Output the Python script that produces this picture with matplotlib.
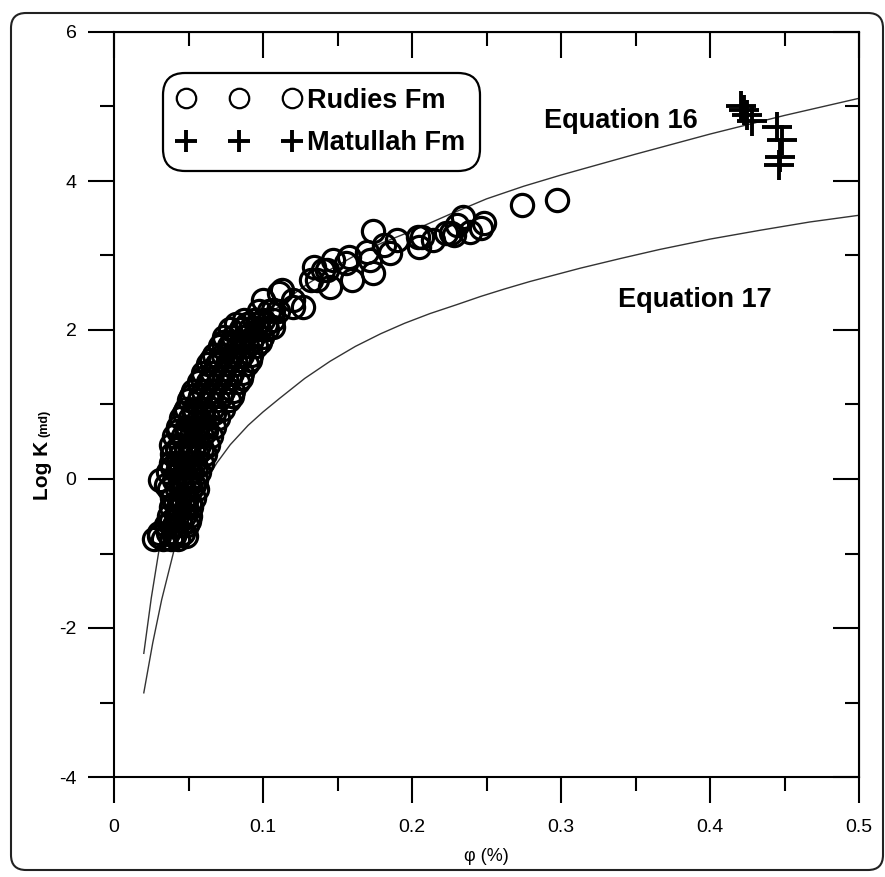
import matplotlib
matplotlib.use("Agg")
import matplotlib.pyplot as plt
from matplotlib.patches import FancyBboxPatch
from matplotlib.ticker import MultipleLocator, FuncFormatter

plt.rcParams["font.family"] = ["Liberation Sans", "DejaVu Sans"]
plt.rcParams["axes.unicode_minus"] = False

# Rudies Fm porosity / log permeability: dense low-porosity band, row by row
band_phi = [
    0.027, 0.033, 0.038, 0.043,
    0.030, 0.036, 0.041, 0.046,
    0.035, 0.040, 0.045, 0.049,
    0.037, 0.042, 0.047, 0.051,
    0.038, 0.043, 0.048, 0.052,
    0.039, 0.044, 0.049, 0.054,
    0.037, 0.042, 0.047, 0.052, 0.056,
    0.031, 0.040, 0.045, 0.050, 0.055,
    0.036, 0.042, 0.047, 0.052, 0.057,
    0.038, 0.043, 0.049, 0.054, 0.059,
    0.039, 0.045, 0.050, 0.056, 0.061,
    0.038, 0.044, 0.050, 0.057, 0.063,
    0.040, 0.046, 0.052, 0.059, 0.065,
    0.043, 0.049, 0.055, 0.061, 0.067,
    0.045, 0.051, 0.057, 0.063, 0.070,
    0.048, 0.054, 0.060, 0.066, 0.073,
    0.050, 0.057, 0.063, 0.070, 0.077,
    0.053, 0.060, 0.066, 0.073, 0.080,
    0.057, 0.063, 0.070, 0.076, 0.083,
    0.060, 0.066, 0.073, 0.079, 0.086,
    0.063, 0.069, 0.076, 0.082, 0.089,
    0.067, 0.073, 0.079, 0.086, 0.092,
    0.071, 0.077, 0.083, 0.089, 0.095,
    0.074, 0.080, 0.087, 0.093, 0.099,
    0.078, 0.085, 0.091, 0.097, 0.103,
    0.087, 0.094, 0.100, 0.107,
    0.097, 0.104, 0.110,
    # in-between rows
    0.030, 0.040, 0.048,
    0.038, 0.044, 0.050,
    0.041, 0.046, 0.051,
    0.035, 0.045, 0.050, 0.054,
    0.039, 0.045, 0.050, 0.055,
    0.042, 0.048, 0.053, 0.059,
    0.043, 0.049, 0.056, 0.062,
    0.047, 0.054, 0.060, 0.067,
    0.052, 0.058, 0.065, 0.072, 0.079,
    0.059, 0.065, 0.071, 0.078, 0.085,
    0.065, 0.071, 0.078, 0.084, 0.091,
    0.073, 0.079, 0.086, 0.092, 0.098,
    0.082, 0.089, 0.096, 0.102,
]
band_logk = [
    -0.80, -0.80, -0.80, -0.80,
    -0.72, -0.72, -0.72, -0.72,
    -0.62, -0.62, -0.62, -0.62,
    -0.50, -0.50, -0.50, -0.50,
    -0.38, -0.38, -0.38, -0.38,
    -0.26, -0.26, -0.26, -0.26,
    -0.14, -0.14, -0.14, -0.14, -0.14,
    -0.02, -0.02, -0.02, -0.02, -0.02,
    0.10, 0.10, 0.10, 0.10, 0.10,
    0.22, 0.22, 0.22, 0.22, 0.22,
    0.34, 0.34, 0.34, 0.34, 0.34,
    0.46, 0.46, 0.46, 0.46, 0.46,
    0.58, 0.58, 0.58, 0.58, 0.58,
    0.70, 0.70, 0.70, 0.70, 0.70,
    0.82, 0.82, 0.82, 0.82, 0.82,
    0.94, 0.94, 0.94, 0.94, 0.94,
    1.06, 1.06, 1.06, 1.06, 1.06,
    1.18, 1.18, 1.18, 1.18, 1.18,
    1.30, 1.30, 1.30, 1.30, 1.30,
    1.42, 1.42, 1.42, 1.42, 1.42,
    1.54, 1.54, 1.54, 1.54, 1.54,
    1.66, 1.66, 1.66, 1.66, 1.66,
    1.78, 1.78, 1.78, 1.78, 1.78,
    1.90, 1.90, 1.90, 1.90, 1.90,
    2.02, 2.02, 2.02, 2.02, 2.02,
    2.14, 2.14, 2.14, 2.14,
    2.26, 2.26, 2.26,
    -0.76, -0.76, -0.76,
    -0.56, -0.56, -0.56,
    -0.32, -0.32, -0.32,
    -0.08, -0.08, -0.08, -0.08,
    0.16, 0.16, 0.16, 0.16,
    0.40, 0.40, 0.40, 0.40,
    0.64, 0.64, 0.64, 0.64,
    0.88, 0.88, 0.88, 0.88,
    1.12, 1.12, 1.12, 1.12, 1.12,
    1.36, 1.36, 1.36, 1.36, 1.36,
    1.60, 1.60, 1.60, 1.60, 1.60,
    1.84, 1.84, 1.84, 1.84, 1.84,
    2.08, 2.08, 2.08, 2.08,
]
# Rudies Fm upper tail
tail_phi = [
    0.100, 0.107, 0.107, 0.111, 0.113, 0.120, 0.120, 0.127, 0.132, 0.134,
    0.136, 0.140, 0.143, 0.145, 0.147, 0.156, 0.158, 0.160, 0.170, 0.172,
    0.174, 0.174, 0.181, 0.185, 0.190, 0.204, 0.205, 0.207, 0.214, 0.223,
    0.226, 0.228, 0.230, 0.234, 0.239, 0.246, 0.248, 0.274, 0.297,
]
tail_logk = [
    2.40, 2.27, 2.04, 2.50, 2.54, 2.40, 2.31, 2.31, 2.67, 2.85,
    2.67, 2.81, 2.81, 2.58, 2.94, 2.90, 2.98, 2.67, 3.05, 2.94,
    2.76, 3.33, 3.14, 3.03, 3.21, 3.25, 3.11, 3.25, 3.21, 3.30,
    3.30, 3.28, 3.41, 3.52, 3.32, 3.37, 3.44, 3.68, 3.74,
]

# Matullah Fm samples
matullah_phi = [0.421, 0.423, 0.425, 0.428, 0.445, 0.448, 0.447, 0.446]
matullah_logk = [5.00, 4.95, 4.88, 4.80, 4.72, 4.55, 4.32, 4.22]

# Model curves
eq16_phi = [0.020, 0.025, 0.030, 0.035, 0.040, 0.050, 0.060, 0.070, 0.085,
            0.100, 0.115, 0.130, 0.145, 0.160, 0.180, 0.200, 0.225, 0.250,
            0.275, 0.300, 0.350, 0.400, 0.450, 0.500]
eq16_logk = [-2.34, -1.60, -0.98, -0.48, -0.05, 0.55, 1.00, 1.35, 1.78,
             2.12, 2.40, 2.62, 2.81, 2.98, 3.17, 3.33, 3.55, 3.76,
             3.93, 4.08, 4.36, 4.63, 4.88, 5.11]
eq17_phi = [0.020, 0.026, 0.032, 0.040, 0.050, 0.060, 0.069, 0.078, 0.090,
            0.100, 0.111, 0.128, 0.145, 0.162, 0.179, 0.195, 0.212, 0.230,
            0.246, 0.262, 0.279, 0.296, 0.313, 0.340, 0.366, 0.400, 0.434,
            0.467, 0.500]
eq17_logk = [-2.87, -2.20, -1.62, -0.98, -0.45, -0.08, 0.215, 0.46, 0.72,
             0.90, 1.08, 1.35, 1.58, 1.78, 1.95, 2.09, 2.22, 2.34,
             2.45, 2.55, 2.65, 2.74, 2.83, 2.96, 3.08, 3.22, 3.34,
             3.45, 3.54]

W, H = 885, 877
fig = plt.figure(figsize=(W / 100, H / 100), dpi=100)
ax = fig.add_axes([114 / W, 1 - 777 / H, 745 / W, 745 / H])

ax.plot(eq16_phi, eq16_logk, color="#333333", lw=1.0, zorder=1)
ax.plot(eq17_phi, eq17_logk, color="#333333", lw=1.0, zorder=1)
ax.plot(band_phi + tail_phi, band_logk + tail_logk, "o", mfc="none", mec="black",
        ms=16, mew=2.3, label="Rudies Fm", zorder=2)
ax.plot(matullah_phi, matullah_logk, "+", color="black", ms=22, mew=2.8,
        label="Matullah Fm", zorder=3)

ax.set_xlim(0, 0.5)
ax.set_ylim(-4, 6)
ax.xaxis.set_major_locator(MultipleLocator(0.1))
ax.xaxis.set_minor_locator(MultipleLocator(0.05))
ax.yaxis.set_major_locator(MultipleLocator(2))
ax.yaxis.set_minor_locator(MultipleLocator(1))
ax.xaxis.set_major_formatter(FuncFormatter(lambda v, p: "0" if abs(v) < 1e-9 else f"{v:g}"))

for side in ax.spines.values():
    side.set_linewidth(1.5)
ax.tick_params(which="both", direction="out", width=1.5, labelsize=14, pad=8,
               top=False, right=False)
ax.tick_params(axis="x", which="major", pad=11)
ax.tick_params(which="major", length=19)
ax.tick_params(which="minor", length=10)

# inward ticks on the top and right edges
ax_top = ax.secondary_xaxis("top")
ax_top.xaxis.set_major_locator(MultipleLocator(0.1))
ax_top.xaxis.set_minor_locator(MultipleLocator(0.05))
ax_top.tick_params(which="both", direction="in", width=1.5, labeltop=False)
ax_top.tick_params(which="major", length=19)
ax_top.tick_params(which="minor", length=10)
ax_right = ax.secondary_yaxis("right")
ax_right.yaxis.set_major_locator(MultipleLocator(2))
ax_right.yaxis.set_minor_locator(MultipleLocator(1))
ax_right.tick_params(which="both", direction="in", width=1.5, labelright=False)
ax_right.tick_params(which="major", length=19)
ax_right.tick_params(which="minor", length=10)

leg = ax.legend(loc="upper left", bbox_to_anchor=(0.066, 0.945), borderaxespad=0,
                numpoints=3, handlelength=4.5, handletextpad=0.26,
                prop={"weight": "bold", "size": 19.5}, fancybox=True,
                borderpad=0.55, labelspacing=0.6)
leg.get_frame().set_edgecolor("black")
leg.get_frame().set_linewidth(1.6)
leg.get_frame().set_boxstyle("round", pad=0.0, rounding_size=0.8)
leg.get_frame().set_alpha(1)
leg.legend_handles[0].set_markersize(14)
leg.legend_handles[0].set_markeredgewidth(1.6)
leg.legend_handles[1].set_markersize(16)

ax.text(0.34, 4.81, "Equation 16", ha="center", va="center", fontsize=19.5,
        fontweight="bold")
ax.text(0.39, 2.40, "Equation 17", ha="center", va="center", fontsize=19.5,
        fontweight="bold")

ax.set_xlabel("φ (%)", fontsize=13, labelpad=9)
fig.text(42 / W, 1 - 470 / H, "Log K", rotation=90, ha="center", va="center",
         fontsize=15, fontweight="bold")
fig.text(44 / W, 1 - 423 / H, "(md)", rotation=90, ha="center", va="center",
         fontsize=9, fontweight="bold")

frame = FancyBboxPatch((11, 7), 872, 857, boxstyle="round,pad=0,rounding_size=15",
                       transform=None, fill=False, edgecolor="#222222", lw=1.5)
fig.patches.append(frame)

fig.savefig("out.png", dpi=100)
